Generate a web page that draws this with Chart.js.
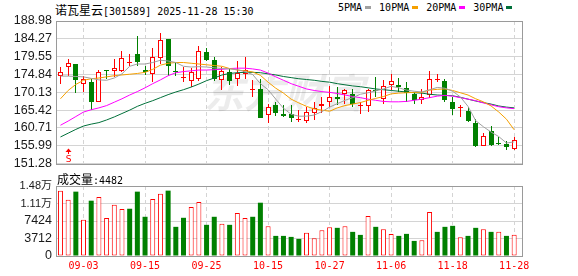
<!DOCTYPE html>
<html>
<head>
<meta charset="utf-8">
<script src="https://cdn.jsdelivr.net/npm/chart.js@4.4.1/dist/chart.umd.min.js"></script>
<style>
  html, body { margin: 0; padding: 0; background: #fff; }
  #wrap { position: relative; width: 578px; height: 276px; overflow: hidden; background: #fff; }
  canvas { position: absolute; left: 0; }
  .t { position: absolute; white-space: nowrap; color: #000; line-height: 14px; }
  .cjk { font: 12px "Noto Sans CJK SC"; }
  .asc { font: 10px "DejaVu Sans Mono"; }
  #legend { display: flex; align-items: center; }
  #legend .sw { display: inline-block; width: 6px; height: 3px; margin: 0 8px 0 3px; }
</style>
</head>
<body>
<div id="wrap">
  <div class="t" id="title" style="left:55px;top:1px;"></div>
  <div class="t" id="legend" style="left:338px;top:2px;"></div>
  <canvas id="priceChart" width="578" height="175" style="top:0"></canvas>
  <canvas id="volChart" width="578" height="106" style="top:170px"></canvas>
  <div class="t" id="volLabel" style="left:57px;top:170px;"></div>
</div>
<script>
// ---- stock & session ----
const stockName = '诺瓦星云';
const stockCode = '301589';
const stamp = '2025-11-28 15:30';
const brandMark = '东方财富';

// ---- trading days ----
const dates = [
  '08-29','09-01','09-02','09-03','09-04','09-05','09-08','09-09','09-10','09-11',
  '09-12','09-15','09-16','09-17','09-18','09-19','09-22','09-23','09-24','09-25',
  '09-26','09-29','09-30','10-09','10-10','10-13','10-14','10-15','10-16','10-17',
  '10-20','10-21','10-22','10-23','10-24','10-27','10-28','10-29','10-30','10-31',
  '11-03','11-04','11-05','11-06','11-07','11-10','11-11','11-12','11-13','11-14',
  '11-17','11-18','11-19','11-20','11-21','11-24','11-25','11-26','11-27','11-28'
];
const dateTickIndex = [3, 11, 19, 27, 35, 43, 51, 59];

// ---- daily prices ----
const open = [
  174.48,176.93,177.54,172.39,172.83,167.67,175.97,175.79,175.62,178.06,
  180.25,176.06,175.01,179.20,184.17,175.88,173.96,173.00,173.70,180.68,
  178.76,173.26,175.44,173.70,175.01,170.72,171.08,164.10,166.71,164.36,
  164.36,163.00,162.53,164.71,166.45,167.59,168.90,169.77,169.77,166.50,
  166.45,170.81,168.46,171.95,171.95,171.25,169.77,168.02,169.33,173.26,
  173.09,167.59,165.85,165.23,161.91,155.98,159.99,156.68,156.50,155.10
];
const high = [
  176.93,178.85,177.54,174.31,173.70,176.06,175.97,178.85,180.94,180.34,
  185.05,177.19,181.82,185.92,184.35,178.24,176.75,176.49,182.25,181.82,
  179.37,176.75,176.32,178.50,179.55,173.26,173.70,166.98,167.59,166.71,
  166.71,165.40,166.28,167.59,168.90,171.69,171.52,171.08,171.08,167.59,
  170.90,174.13,173.44,175.01,173.96,172.83,170.21,171.08,175.71,175.01,
  173.70,168.90,166.71,166.28,162.96,159.47,161.22,158.16,157.11,158.25
];
const low = [
  172.21,174.48,170.03,170.21,165.40,167.67,173.52,174.13,175.45,177.19,
  177.19,174.57,172.83,177.63,174.40,174.31,172.83,171.52,173.09,178.50,
  173.09,170.82,171.95,171.78,173.70,168.90,163.23,161.91,163.83,163.49,
  162.35,162.20,161.91,162.79,164.53,166.28,166.71,166.98,166.28,164.36,
  164.97,168.90,166.98,170.64,170.21,167.59,167.15,167.15,168.72,172.83,
  167.59,164.10,163.66,162.35,155.60,155.98,155.98,156.06,154.75,154.75
];
const close = [
  175.36,177.80,173.50,173.60,167.59,175.45,175.62,176.49,179.29,178.23,
  178.06,175.36,179.37,184.00,177.19,175.62,174.13,175.44,181.12,178.76,
  173.70,175.62,173.09,175.18,176.06,170.90,163.23,166.10,164.53,163.83,
  163.23,163.10,164.79,165.84,166.98,168.90,168.46,170.64,166.98,166.80,
  170.64,170.60,171.69,173.09,171.52,170.03,168.20,168.90,173.70,173.65,
  168.02,165.58,166.10,162.61,155.80,158.60,156.24,156.41,155.63,157.55
];

// ---- daily volume (lots) ----
const volume = [
  13865,11945,13651,7679,11732,12514,8034,10878,9954,10025,
  13651,8319,12087,13225,13865,6186,8105,10381,11447,6612,
  8319,6826,6612,9101,8034,8319,11305,6328,4266,4266,
  4053,3626,4906,3768,5475,6115,5972,6328,5119,4479,
  8461,6186,5688,4693,4266,4693,3200,3342,9314,5119,
  6186,6399,3982,4266,5972,5688,5119,5119,4266,4482
];

// ---- moving averages ----
const ma5 = [
  174.4,174.4,174.3,174.2,173.8,173.4,173.3,173.9,175.0,177.0,
  177.6,177.6,178.0,178.6,178.4,178.0,177.0,176.8,176.9,176.8,
  176.6,176.4,176.3,176.1,175.6,174.8,172.4,170.8,168.3,165.9,
  164.3,163.8,163.8,164.1,165.0,166.2,167.1,168.0,168.7,169.6,
  170.0,170.5,171.0,171.7,171.3,170.7,170.4,170.2,170.8,171.4,
  171.2,170.4,168.9,166.4,162.6,161.0,159.6,158.4,156.7,157.0
];
const ma10 = [
  168.4,170.6,172.2,173.3,173.7,173.9,174.2,174.5,174.7,174.9,
  175.1,175.4,176.2,177.3,177.8,178.0,178.0,177.8,177.6,177.4,
  177.2,177.0,176.4,176.0,175.8,175.5,174.6,172.8,171.2,169.9,
  168.3,167.3,166.4,165.7,165.4,165.1,166.0,166.6,167.0,167.4,
  168.0,168.5,169.0,169.7,169.9,170.0,170.1,170.1,170.7,170.9,
  171.0,170.6,170.0,169.4,168.4,167.6,166.5,164.9,163.0,160.2
];
const ma20 = [
  161.4,162.5,163.7,164.9,165.5,166.0,166.6,167.5,168.4,169.4,
  170.3,171.3,172.4,173.4,174.5,175.3,175.6,175.8,176.0,176.0,
  176.1,176.2,176.4,176.5,176.5,176.3,176.0,175.2,174.2,173.3,
  172.4,171.7,171.0,170.6,170.3,170.1,169.8,169.4,169.0,168.7,
  168.3,168.0,167.7,167.6,167.6,167.7,168.0,168.3,168.7,169.1,
  169.3,169.1,168.7,168.3,167.9,167.3,166.8,166.3,166.0,165.8
];
const ma30 = [
  158.3,159.3,160.3,161.2,161.7,162.1,162.8,163.6,164.5,165.4,
  166.4,167.2,167.9,168.7,169.5,170.2,170.8,171.5,172.3,173.2,
  173.9,174.7,175.1,175.3,175.4,175.4,175.3,175.0,174.7,174.3,
  174.0,173.7,173.5,173.3,173.0,172.8,172.4,172.1,171.8,171.6,
  171.3,171.0,170.8,170.6,170.4,170.2,170.0,169.9,169.6,169.4,
  169.3,169.2,168.8,168.3,167.8,167.4,167.0,166.5,166.2,166.0
];
const maNames = ['5PMA', '10PMA', '20PMA', '30PMA'];

// ---- axis tick labels ----
const priceTickLabels = ['151.28','155.99','160.71','165.42','170.13','174.84','179.55','184.27','188.98'];
const volTickValues = [0, 3712, 7424, 11136, 14848];
const volTickLabels = ['0', '3712', '7424', '1.11万', '1.48万'];

// ---- buy/sell signal ----
const signalIndex = 1;
const signalText = 'S';

// ---- styling ----
const UP = '#ff0000';
const DOWN = '#008000';
const MA_COLORS = ['#a0a0a0', '#f5a000', '#ff00ff', '#00703a'];
const GRID = '#d4d4d4';
const FRAME = '#9a9a9a';

// ---- header text ----
document.getElementById('title').innerHTML =
  '<span class="cjk">' + stockName + '</span><span class="asc">[' + stockCode + '] ' + stamp + '</span>';
document.getElementById('legend').innerHTML = maNames.map((n, k) =>
  '<span class="asc">' + n + '</span><span class="sw" style="background:' + MA_COLORS[k] + '"></span>').join('');
document.getElementById('volLabel').innerHTML =
  '<span class="cjk">成交量</span><span class="asc">:' + volume[volume.length - 1] + '</span>';

// candle colour follows close vs open; volume colour follows the day's change
const isUp = i => close[i] >= open[i];
const volUp = i => i === 0 ? isUp(0) : close[i] > close[i - 1];

// snap bars onto whole pixels so the candles stay crisp
const snapBars = {
  id: 'snapBars',
  afterDatasetsUpdate(chart) {
    chart.data.datasets.forEach((ds, di) => {
      if (ds.type !== 'bar') return;
      chart.getDatasetMeta(di).data.forEach(el => {
        el.x = Math.floor(el.x) + 0.5;
        let t = Math.round(Math.min(el.y, el.base));
        let b = Math.round(Math.max(el.y, el.base));
        if (b - t < 1) b = t + 1;
        el.y = t;
        el.base = b;
      });
    });
  }
};

// plot frame drawn over the grid
const frame = {
  id: 'frame',
  beforeDatasetsDraw(chart) {
    const { ctx, chartArea: a } = chart;
    ctx.save();
    ctx.strokeStyle = FRAME;
    ctx.lineWidth = 1;
    ctx.strokeRect(Math.round(a.left) + 0.5, Math.round(a.top) + 0.5,
                   Math.round(a.right - a.left), Math.round(a.bottom - a.top));
    ctx.restore();
  }
};

// faint brand mark behind the candles
const brand = {
  id: 'brand',
  beforeDatasetsDraw(chart) {
    const { ctx, chartArea: a } = chart;
    ctx.save();
    ctx.fillStyle = 'rgba(0,0,0,0.075)';
    ctx.font = 'italic bold 40px "Noto Sans CJK SC"';
    ctx.textAlign = 'center';
    ctx.textBaseline = 'middle';
    ctx.fillText(brandMark, (a.left + a.right) / 2 - 5, (a.top + a.bottom) / 2 + 1);
    ctx.restore();
  }
};

// signal marker under the candle
const signal = {
  id: 'signal',
  afterDatasetsDraw(chart) {
    const { ctx, chartArea: a } = chart;
    const x = Math.floor(chart.scales.x.getPixelForValue(signalIndex)) + 0.5;
    const yb = a.bottom;
    ctx.save();
    ctx.fillStyle = UP;
    ctx.beginPath();
    ctx.moveTo(x, yb - 15);
    ctx.lineTo(x - 3, yb - 11.5);
    ctx.lineTo(x + 3, yb - 11.5);
    ctx.closePath();
    ctx.fill();
    ctx.fillRect(x - 0.5, yb - 12, 1, 2.5);
    ctx.font = '9px "DejaVu Sans"';
    ctx.textAlign = 'center';
    ctx.textBaseline = 'alphabetic';
    ctx.fillText(signalText, x, yb - 1.5);
    ctx.restore();
  }
};

function xScale(showLabels) {
  return {
    type: 'linear',
    offset: false,
    min: -0.58,
    max: 60.02,
    afterBuildTicks: s => { s.ticks = dateTickIndex.map(v => ({ value: v })); },
    afterFit: s => { s.height = showLabels ? 20 : 0; },
    ticks: {
      display: showLabels,
      autoSkip: false,
      maxRotation: 0,
      padding: 4,
      color: UP,
      font: { family: '"DejaVu Sans Mono"', size: 10 },
      callback: v => dates[v]
    },
    grid: { color: GRID, drawTicks: false, offset: false },
    border: { display: false, dash: [4, 3] }
  };
}

const idx = dates.map((_, i) => i);

new Chart(document.getElementById('priceChart'), {
  type: 'bar',
  data: {
    datasets: [
      ...[ma5, ma10, ma20, ma30].map((m, k) => ({
        type: 'line',
        label: maNames[k],
        data: m.map((v, i) => ({ x: i, y: v })),
        borderColor: MA_COLORS[k],
        borderWidth: 1,
        pointRadius: 0,
        tension: 0,
        order: 0
      })),
      {
        type: 'bar',
        label: 'body',
        data: idx.map(i => ({ x: i, y: [open[i], close[i]] })),
        backgroundColor: c => isUp(c.dataIndex) ? '#ffffff' : DOWN,
        borderColor: c => isUp(c.dataIndex) ? UP : DOWN,
        borderWidth: c => isUp(c.dataIndex) ? 1 : 0,
        borderSkipped: false,
        inflateAmount: 0,
        barThickness: 5,
        grouped: false,
        order: 1
      },
      {
        type: 'bar',
        label: 'wick',
        data: idx.map(i => ({ x: i, y: [low[i], high[i]] })),
        backgroundColor: c => isUp(c.dataIndex) ? UP : DOWN,
        borderWidth: 0,
        inflateAmount: 0,
        barThickness: 1,
        grouped: false,
        order: 2
      }
    ]
  },
  options: {
    responsive: false,
    animation: false,
    events: [],
    layout: { padding: { left: 0, right: 56, top: 21, bottom: 10 } },
    plugins: { legend: { display: false }, tooltip: { enabled: false } },
    scales: {
      x: xScale(false),
      y: {
        type: 'linear',
        min: Number(priceTickLabels[0]),
        max: Number(priceTickLabels[priceTickLabels.length - 1]),
        afterBuildTicks: s => { s.ticks = priceTickLabels.map(t => ({ value: Number(t) })); },
        afterFit: s => { s.width = 56; },
        ticks: {
          autoSkip: false,
          padding: 4,
          color: '#1a1a1a',
          font: { family: '"Liberation Sans"', size: 12.5 },
          callback: (v, i) => priceTickLabels[i]
        },
        grid: { color: GRID, drawTicks: false },
        border: { display: false }
      }
    }
  },
  plugins: [snapBars, brand, frame, signal]
});

new Chart(document.getElementById('volChart'), {
  type: 'bar',
  data: {
    datasets: [{
      label: 'volume',
      data: idx.map(i => ({ x: i, y: volume[i] })),
      backgroundColor: c => volUp(c.dataIndex) ? '#ffffff' : DOWN,
      borderColor: c => volUp(c.dataIndex) ? UP : DOWN,
      borderWidth: c => volUp(c.dataIndex) ? 1 : 0,
      borderSkipped: false,
      inflateAmount: 0,
      barThickness: 5,
      grouped: false
    }]
  },
  options: {
    responsive: false,
    animation: false,
    events: [],
    layout: { padding: { left: 0, right: 56, top: 16, bottom: 0 } },
    plugins: { legend: { display: false }, tooltip: { enabled: false } },
    scales: {
      x: xScale(true),
      y: {
        type: 'linear',
        min: volTickValues[0],
        max: volTickValues[volTickValues.length - 1],
        afterBuildTicks: s => { s.ticks = volTickValues.map(v => ({ value: v })); },
        afterFit: s => { s.width = 56; },
        ticks: {
          autoSkip: false,
          padding: 4,
          color: '#1a1a1a',
          font: c => ({ family: '"Liberation Sans", "Noto Sans CJK SC"',
                        size: String(volTickLabels[c.index] || '').includes('万') ? 11 : 12.5 }),
          callback: (v, i) => volTickLabels[i]
        },
        grid: { color: GRID, drawTicks: false },
        border: { display: false }
      }
    }
  },
  plugins: [snapBars, frame]
});
</script>
</body>
</html>
